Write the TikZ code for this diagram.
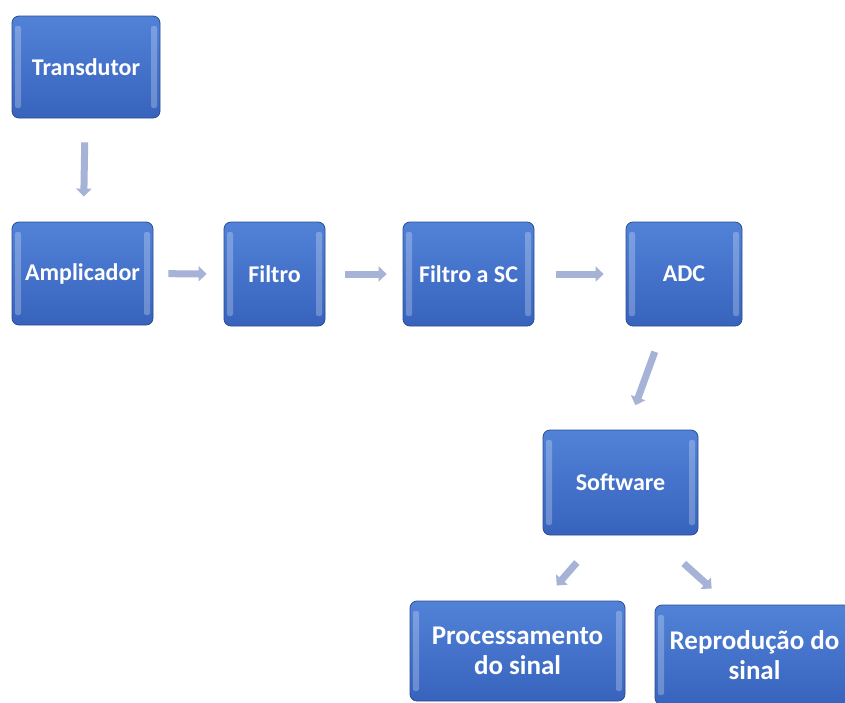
\documentclass[tikz,border=0pt]{standalone}
\usepackage{fontspec}
\setmainfont{Carlito}
\usetikzlibrary{arrows.meta,calc}

\definecolor{boxtop}{HTML}{5282D8}
\definecolor{boxbot}{HTML}{3763BD}
\definecolor{boxline}{HTML}{2B4C8F}
\definecolor{arrowcol}{HTML}{A6B2D6}

\tikzset{
    block/.style={rounded corners=7pt, draw=boxline, thick,
        top color=boxtop, bottom color=boxbot,
        text=white, font=\bfseries\fontsize{24}{26}\selectfont, align=center,
        path picture={
            \fill[white, opacity=0.25, rounded corners=2pt]
            ([xshift=3pt,yshift=-10pt]path picture bounding box.north west) rectangle
            ([xshift=9pt,yshift=10pt]path picture bounding box.south west);
            \fill[white, opacity=0.25, rounded corners=2pt]
            ([xshift=-3pt,yshift=-10pt]path picture bounding box.north east) rectangle
            ([xshift=-9pt,yshift=10pt]path picture bounding box.south east);
        }},
    twoline/.style={font=\bfseries\fontsize{27}{30}\selectfont},
    flow/.style={draw=arrowcol, line width=7pt,
        -{Triangle[width=15pt,length=8pt]}},
}

\begin{document}
\begin{tikzpicture}[x=1pt, y=-1pt]

    %% Background
    \useasboundingbox (0,0) rectangle (845,702);

    % Blocks
    \node[block, minimum width=148pt, minimum height=102pt] (trans) at (86,67) {Transdutor};
    \node[block, minimum width=141pt, minimum height=103pt] (ampl) at (82.5,273.5) {Amplicador};
    \node[block, minimum width=101pt, minimum height=104pt] (filtro) at (274.5,274) {Filtro};
    \node[block, minimum width=131pt, minimum height=104pt] (filsc) at (468.5,274) {Filtro a SC};
    \node[block, minimum width=116pt, minimum height=104pt] (adc) at (684,274) {ADC};
    \node[block, minimum width=155pt, minimum height=105pt] (soft) at (620.5,482.5) {Software};
    \node[block, twoline, minimum width=215pt, minimum height=100pt] (proc) at (517.5,651) {Processamento\\do sinal};
    \node[block, twoline, minimum width=199pt, minimum height=100pt] (repro) at (754.5,655) {Reprodução do\\sinal};

    % Arrows
    \draw[flow, shorten <=24pt, shorten >=25pt] (trans) -- (ampl);
    \draw[flow, shorten <=15pt, shorten >=17pt] (ampl) -- (filtro);
    \draw[flow, shorten <=20pt, shorten >=16pt] (filtro) -- (filsc);
    \draw[flow, shorten <=22pt, shorten >=22pt] (filsc) -- (adc);
    \draw[flow, shorten <=27pt, shorten >=26pt] ([xshift=-20pt]adc.south) -- ([xshift=6pt]soft.north);
    \draw[flow, shorten <=36pt, shorten >=20pt] ([xshift=-20pt]soft.south) -- ([xshift=26pt]proc.north);
    \draw[flow, shorten <=42pt, shorten >=24pt] ([xshift=32pt]soft.south) -- ([xshift=-25pt]repro.north);

\end{tikzpicture}
\end{document}
